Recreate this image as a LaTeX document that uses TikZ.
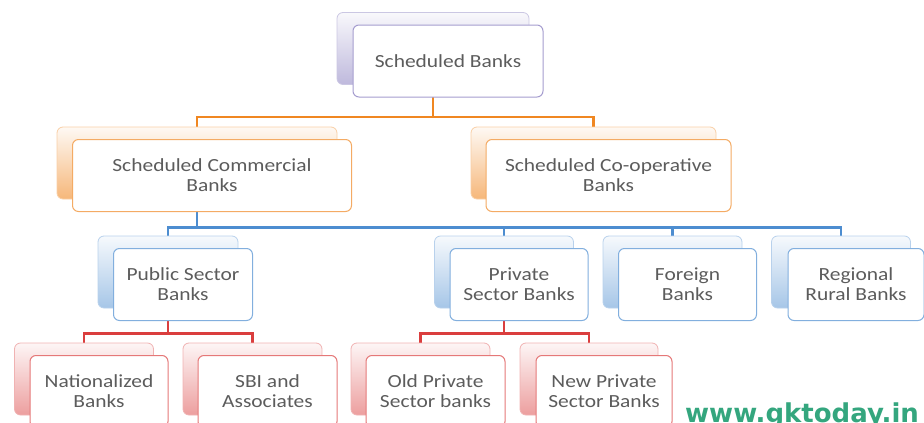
\documentclass[tikz,border=0pt]{standalone}
\usepackage{fontspec}
\setmainfont{Carlito}[FakeStretch=1.16]
\newfontfamily\webfont{DejaVu Sans}
\usepackage{xcolor}
\usetikzlibrary{positioning, backgrounds}

\definecolor{bankPurple}{RGB}{126,115,186}
\definecolor{bankOrange}{RGB}{240,135,33}
\definecolor{bankBlue}{RGB}{77,141,208}
\definecolor{bankRed}{RGB}{218,62,62}
\definecolor{textgray}{RGB}{92,92,92}
\definecolor{webgreen}{RGB}{52,166,126}

\begin{document}
\begin{tikzpicture}[x=1pt, y=-1pt,
  back/.style={draw=#1!40, line width=0.8pt, rounded corners=6pt, top color=#1!5, bottom color=#1!50, minimum height=72pt, inner sep=0pt},
  front/.style={draw=#1!70, line width=1pt, fill=white, rounded corners=6pt, minimum height=72pt, inner sep=0pt, align=center, text=textgray, font=\fontsize{18.5}{20}\selectfont, xshift=15pt, yshift=-12.5pt},
  link/.style={draw=#1, line width=2.5pt}]
\useasboundingbox (0,0) rectangle (924,423);
\clip (0,0) rectangle (924,423);

% Top level
\node[back=bankPurple, minimum width=192pt] (sbb) at (433,48.5) {};
\node[front=bankPurple, minimum width=190pt] (sb) at (sbb) {Scheduled Banks};

% Second level
\node[back=bankOrange, bottom color=bankOrange!60, minimum width=280pt] (scbb) at (197,163) {};
\node[front=bankOrange, minimum width=279pt] (scb) at (scbb) {Scheduled Commercial\\Banks};
\node[back=bankOrange, bottom color=bankOrange!60, minimum width=245pt] (scob) at (593.5,163) {};
\node[front=bankOrange, minimum width=245pt] (sco) at (scob) {Scheduled Co-operative\\Banks};

% Third level
\node[back=bankBlue, minimum width=140pt] (psbb) at (168,272) {};
\node[front=bankBlue, minimum width=139pt] (psb) at (psbb) {Public Sector\\Banks};
\node[back=bankBlue, minimum width=139pt] (pvtb) at (504,272) {};
\node[front=bankBlue, minimum width=138pt] (pvt) at (pvtb) {Private\\Sector Banks};
\node[back=bankBlue, minimum width=139pt] (forb) at (672.5,272) {};
\node[front=bankBlue, minimum width=138pt] (for) at (forb) {Foreign\\Banks};
\node[back=bankBlue, minimum width=139pt] (rrbb) at (841,272) {};
\node[front=bankBlue, minimum width=136pt] (rrb) at (rrbb) {Regional\\Rural Banks};

% Fourth level
\node[back=bankRed, minimum width=139pt] (natb) at (84,379) {};
\node[front=bankRed, minimum width=138pt] (nat) at (natb) {Nationalized\\Banks};
\node[back=bankRed, minimum width=139pt] (sbib) at (252.5,379) {};
\node[front=bankRed, minimum width=139pt] (sbi) at (sbib) {SBI and\\Associates};
\node[back=bankRed, minimum width=139pt] (oldb) at (420.5,379) {};
\node[front=bankRed, minimum width=139pt] (old) at (oldb) {Old Private\\Sector banks};
\node[back=bankRed, minimum width=138pt] (newb) at (589,379) {};
\node[front=bankRed, minimum width=136pt] (new) at (newb) {New Private\\Sector Banks};

% Connectors
\begin{scope}[on background layer]
\draw[link=bankOrange] (sbb.south) -- ++(0,32) -| (scbb.north);
\draw[link=bankOrange] (sbb.south) -- ++(0,32) -| (scob.north);
\foreach \kid in {psbb, pvtb, forb, rrbb}
  \draw[link=bankBlue] (scbb.south) -- ++(0,28) -| (\kid.north);
\foreach \kid in {natb, sbib}
  \draw[link=bankRed] (psbb.south) -- ++(0,25) -| (\kid.north);
\foreach \kid in {oldb, newb}
  \draw[link=bankRed] (pvtb.south) -- ++(0,25) -| (\kid.north);
\end{scope}

% Site
\node[anchor=base west, inner sep=0pt, text=webgreen, font=\webfont\bfseries\fontsize{26}{26}\selectfont] (web) at (685,422) {www.gktoday.in};
\end{tikzpicture}
\end{document}
